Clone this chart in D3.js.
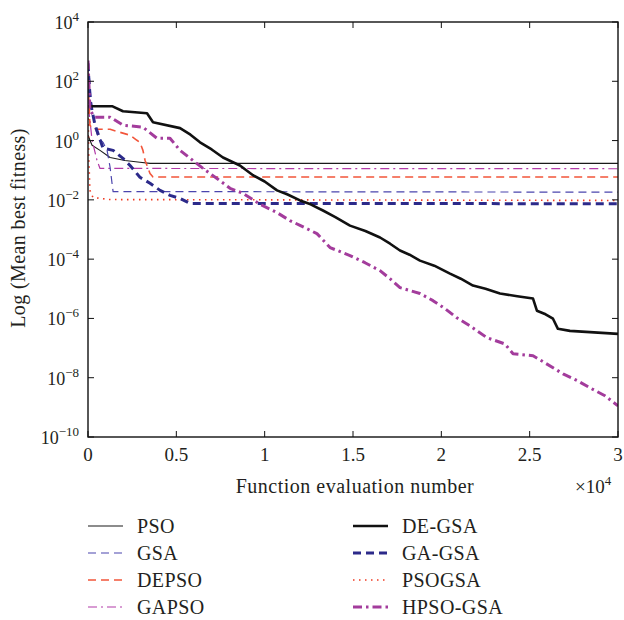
<!DOCTYPE html>
<html>
<head>
<meta charset="utf-8">
<script src="https://cdn.jsdelivr.net/npm/d3@7"></script>
<style>
  html, body { margin: 0; padding: 0; background: #fff; }
  svg { display: block; font-family: "Liberation Serif", "DejaVu Serif", serif; }
</style>
</head>
<body>
<svg id="chart" width="624" height="620"></svg>
<script>
// Function evaluations (x) and log10 of mean best fitness (y) for each algorithm
const psoEval   = [0, 110, 230, 680, 1250, 2090, 2940, 3510, 30000];
const psoLog    = [0.18, 0.01, -0.16, -0.33, -0.57, -0.67, -0.73, -0.77, -0.77];

const gsaEval   = [0, 110, 230, 400, 570, 850, 1080, 1250, 1360, 1420, 30000];
const gsaLog    = [2.61, 1.94, 1.13, 0.45, 0.11, -0.06, -0.33, -0.90, -1.44, -1.72, -1.74];

const depsoEval = [0, 110, 280, 1250, 1810, 2380, 2770, 2940, 3110, 3230, 3510, 3680, 30000];
const depsoLog  = [2.04, 0.52, 0.38, 0.38, 0.28, 0.18, 0.01, -0.06, -0.33, -0.67, -1.11, -1.23, -1.23];

const gapsoEval = [0, 50, 230, 510, 680, 30000];
const gapsoLog  = [2.38, 1.02, 0.01, -0.67, -0.94, -0.95];

const degsaEval = [0, 1360, 1980, 3340, 3680, 5210, 5800, 6340, 7000, 7640, 8600, 9340, 10000,
                   10700, 11300, 12000, 12600, 13300, 14000, 14830, 15700, 16530, 17100, 17660,
                   18200, 18790, 19600, 20490, 21100, 21790, 22500, 23320, 24300, 25190, 25410,
                   25900, 26320, 26600, 27280, 30000];
const degsaLog  = [1.16, 1.16, 0.99, 0.92, 0.62, 0.42, 0.2, -0.06, -0.3, -0.57, -0.84, -1.17, -1.38,
                   -1.68, -1.82, -2.02, -2.15, -2.36, -2.58, -2.87, -3.05, -3.27, -3.48, -3.71,
                   -3.85, -4.05, -4.22, -4.49, -4.66, -4.89, -5.0, -5.16, -5.25, -5.33, -5.74,
                   -5.86, -6.01, -6.35, -6.42, -6.52];

const gagsaEval = [0, 110, 400, 850, 1420, 1980, 2380, 2940, 3510, 4080, 4640, 5210, 5770, 30000];
const gagsaLog  = [2.61, 1.36, 0.52, -0.26, -0.33, -0.60, -0.84, -1.24, -1.44, -1.68, -1.85, -1.95, -2.12, -2.13];

const psogsaEval = [0, 50, 110, 280, 1250, 30000];
const psogsaLog  = [1.36, -0.67, -1.68, -1.92, -1.99, -2.02];

const hpsoEval  = [0, 110, 400, 1250, 1980, 3110, 3900, 4640, 5210, 5940, 6510, 7300, 8040, 8770,
                   9740, 10700, 11430, 12000, 12960, 13700, 14830, 15680, 16530, 17090, 17660,
                   18790, 19530, 20210, 20880, 21620, 22580, 23600, 24060, 25190, 25870, 26890,
                   27730, 28410, 29260, 30000];
const hpsoLog   = [2.7, 1.02, 0.79, 0.79, 0.52, 0.45, 0.08, 0.08, -0.33, -0.67, -0.94, -1.28, -1.61, -1.78,
                   -2.15, -2.43, -2.70, -2.86, -3.14, -3.61, -3.88, -4.12, -4.39, -4.66, -4.96,
                   -5.16, -5.40, -5.67, -5.98, -6.25, -6.65, -6.86, -7.19, -7.26, -7.50, -7.87,
                   -8.11, -8.34, -8.61, -8.95];

const xTickValues = [0, 5000, 10000, 15000, 20000, 25000, 30000];
const xTickLabels = ["0", "0.5", "1", "1.5", "2", "2.5", "3"];
const yTickExps   = [4, 2, 0, -2, -4, -6, -8, -10];

const seriesNames = ["PSO", "GSA", "DEPSO", "GAPSO", "DE-GSA", "GA-GSA", "PSOGSA", "HPSO-GSA"];

const series = [
  { name: "PSO",      ev: psoEval,    lg: psoLog,    color: "#1a1a1a", width: 1.1, dash: null },
  { name: "GSA",      ev: gsaEval,    lg: gsaLog,    color: "#4b45ad", width: 1.2, dash: "8,5" },
  { name: "DEPSO",    ev: depsoEval,  lg: depsoLog,  color: "#f2553a", width: 1.6, dash: "8,5" },
  { name: "GAPSO",    ev: gapsoEval,  lg: gapsoLog,  color: "#b23aa8", width: 1.2, dash: "9,4,2,4" },
  { name: "DE-GSA",   ev: degsaEval,  lg: degsaLog,  color: "#111111", width: 2.6, dash: null },
  { name: "GA-GSA",   ev: gagsaEval,  lg: gagsaLog,  color: "#2c2a8a", width: 3.0, dash: "8,5" },
  { name: "PSOGSA",   ev: psogsaEval, lg: psogsaLog, color: "#f03a22", width: 1.6, dash: "1.5,4.5" },
  { name: "HPSO-GSA", ev: hpsoEval,   lg: hpsoLog,   color: "#a33c9c", width: 3.0, dash: "9,4,2.5,4" }
];

const svg = d3.select("#chart");
const plotLeft = 88, plotRight = 618, plotTop = 22, plotBottom = 437;

const x = d3.scaleLinear().domain([0, 30000]).range([plotLeft, plotRight]);
const y = d3.scaleLog().domain([1e-10, 1e4]).range([plotBottom, plotTop]);

// Clip so curves stay inside the axes box
svg.append("defs").append("clipPath").attr("id", "plotClip")
  .append("rect").attr("x", plotLeft).attr("y", plotTop)
  .attr("width", plotRight - plotLeft).attr("height", plotBottom - plotTop);

const plot = svg.append("g").attr("clip-path", "url(#plotClip)");

const line = d3.line()
  .x(d => x(d[0]))
  .y(d => y(Math.pow(10, d[1])));

// Thin lines first, thick hybrids on top
const drawOrder = ["PSO", "GAPSO", "DEPSO", "GSA", "PSOGSA", "GA-GSA", "DE-GSA", "HPSO-GSA"];
drawOrder.forEach(n => {
  const s = series.find(t => t.name === n);
  const pts = s.ev.map((e, i) => [e, s.lg[i]]);
  plot.append("path")
    .attr("d", line(pts))
    .attr("fill", "none")
    .attr("stroke", s.color)
    .attr("stroke-width", s.width)
    .attr("stroke-dasharray", s.dash)
    .attr("stroke-linejoin", "round");
});

// Axes box
svg.append("rect")
  .attr("x", plotLeft).attr("y", plotTop)
  .attr("width", plotRight - plotLeft).attr("height", plotBottom - plotTop)
  .attr("fill", "none").attr("stroke", "#111").attr("stroke-width", 1.4);

const tickLen = 6;
const axisG = svg.append("g").attr("stroke", "#111").attr("stroke-width", 1);

// x ticks (inward, bottom and top)
xTickValues.forEach(v => {
  axisG.append("line").attr("x1", x(v)).attr("x2", x(v)).attr("y1", plotBottom).attr("y2", plotBottom - tickLen);
  axisG.append("line").attr("x1", x(v)).attr("x2", x(v)).attr("y1", plotTop).attr("y2", plotTop + tickLen);
});
// y ticks (inward, left and right)
yTickExps.forEach(e => {
  const yy = y(Math.pow(10, e));
  axisG.append("line").attr("x1", plotLeft).attr("x2", plotLeft + tickLen).attr("y1", yy).attr("y2", yy);
  axisG.append("line").attr("x1", plotRight).attr("x2", plotRight - tickLen).attr("y1", yy).attr("y2", yy);
});

const textColor = "#231f20";

// x tick labels
svg.append("g").selectAll("text").data(xTickValues).join("text")
  .attr("x", d => x(d)).attr("y", 461)
  .attr("text-anchor", "middle")
  .attr("font-size", 19).attr("fill", textColor)
  .text((d, i) => xTickLabels[i]);

// y tick labels with superscript exponents
yTickExps.forEach(e => {
  const yy = y(Math.pow(10, e));
  const t = svg.append("text")
    .attr("x", plotLeft - 9).attr("y", yy + 7)
    .attr("text-anchor", "end")
    .attr("font-size", 18).attr("fill", textColor);
  t.append("tspan").text("10");
  t.append("tspan").attr("dy", -8).attr("font-size", 13)
    .text(e < 0 ? "\u2212" + Math.abs(e) : String(e));
});

// Axis titles
svg.append("text")
  .attr("x", 355).attr("y", 493)
  .attr("text-anchor", "middle").attr("font-size", 20)
  .attr("letter-spacing", 0.5).attr("fill", textColor)
  .text("Function evaluation number");

const mult = svg.append("text")
  .attr("x", 575).attr("y", 493)
  .attr("font-size", 19).attr("fill", textColor);
mult.append("tspan").text("\u00d710");
mult.append("tspan").attr("dy", -8).attr("font-size", 13).text("4");

svg.append("text")
  .attr("transform", "translate(25,228) rotate(-90)")
  .attr("text-anchor", "middle").attr("font-size", 20)
  .attr("letter-spacing", 0.4).attr("fill", textColor)
  .text("Log (Mean best fitness)");

// Legend: two columns of four entries
const legend = svg.append("g");
seriesNames.forEach((n, i) => {
  const s = series.find(t => t.name === n);
  const col = Math.floor(i / 4), row = i % 4;
  const lx = col === 0 ? 88 : 353;
  const ly = 526 + row * 27;
  legend.append("line")
    .attr("x1", lx).attr("x2", lx + 35).attr("y1", ly).attr("y2", ly)
    .attr("stroke", s.color)
    .attr("stroke-width", s.width)
    .attr("stroke-dasharray", s.dash);
  legend.append("text")
    .attr("x", lx + 49).attr("y", ly + 7)
    .attr("font-size", 20).attr("letter-spacing", 0.4).attr("fill", textColor)
    .text(n);
});
</script>
</body>
</html>
